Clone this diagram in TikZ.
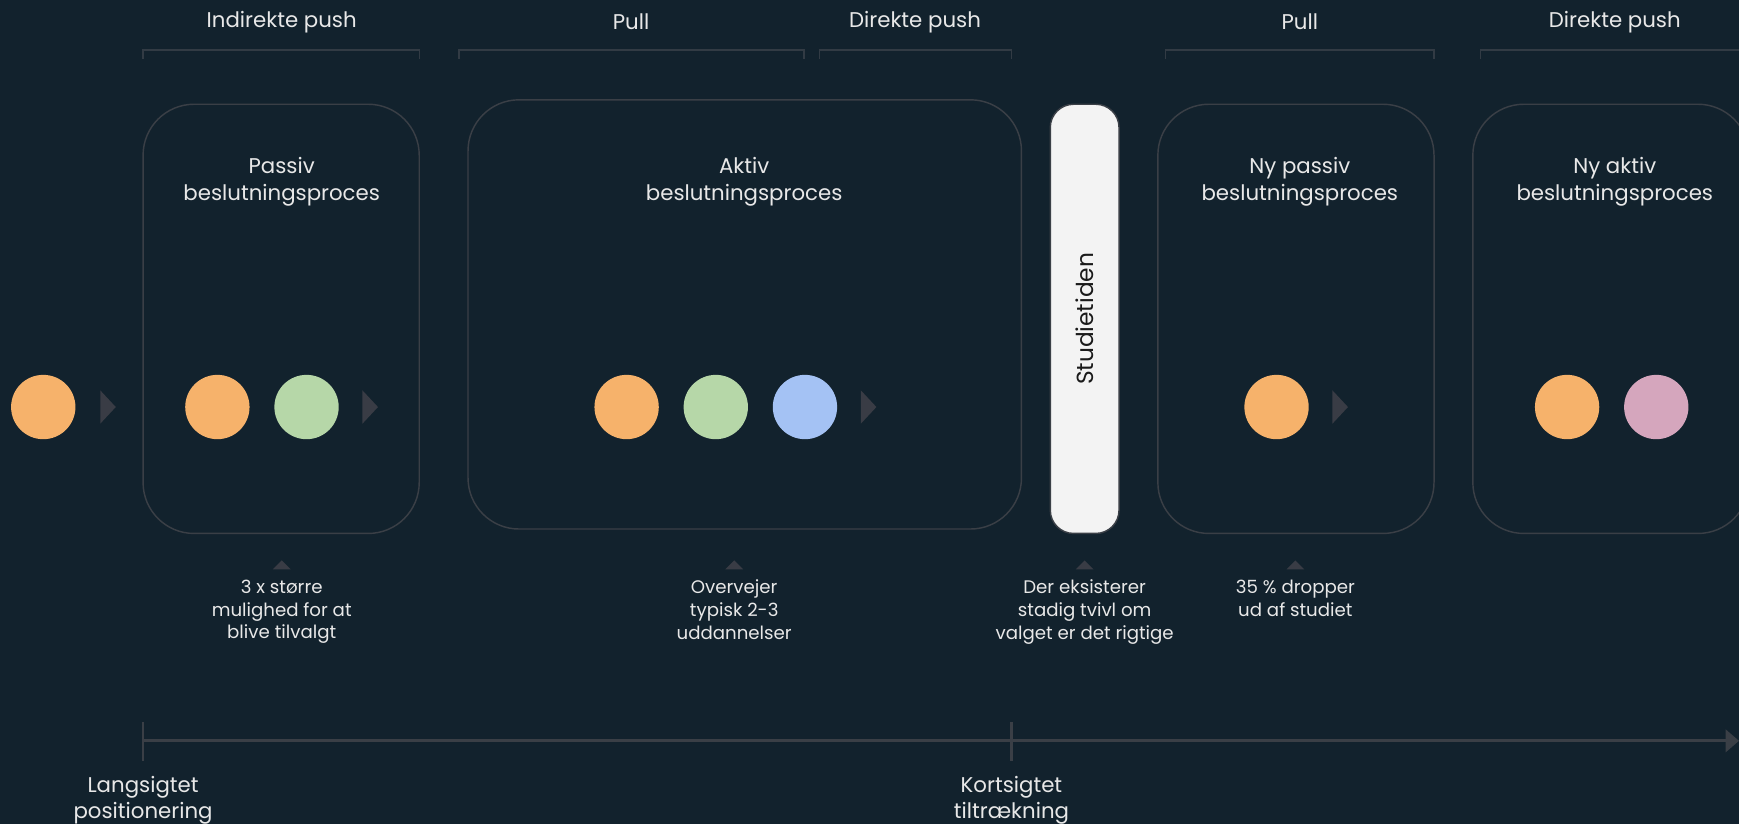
\documentclass[tikz,border=0pt]{standalone}
\usepackage{fontspec}
\setmainfont{Poppins}
\usetikzlibrary{positioning,shapes.geometric,arrows.meta}
\definecolor{bg}{HTML}{12222D}
\definecolor{linje}{HTML}{3A3F46}
\definecolor{klammefarve}{HTML}{323B44}
\definecolor{trekant}{HTML}{393C45}
\definecolor{lys}{HTML}{E8E8E8}
\definecolor{hvid}{HTML}{F3F3F3}
\definecolor{mork}{HTML}{1A1A1A}
\definecolor{orange}{HTML}{F6B26B}
\definecolor{groen}{HTML}{B6D7A8}
\definecolor{blaa}{HTML}{A4C2F4}
\definecolor{rosa}{HTML}{D5A6BD}
\begin{document}
\begin{tikzpicture}[x=1pt,y=-1pt,
	tekst/.style={text=lys, font=\fontsize{19.2}{24}\selectfont, align=center},
	lille/.style={text=lys, font=\fontsize{16.4}{20.5}\selectfont, align=center},
	boks/.style={draw=linje, line width=1.3pt, rounded corners=46pt, minimum width=249pt, minimum height=387pt},
	prik/.style={circle, fill=#1, minimum size=58pt, inner sep=0pt},
	pil/.style={isosceles triangle, isosceles triangle stretches, fill=trekant, inner sep=0pt, minimum width=30pt, minimum height=14pt},
	op/.style={pil, shape border rotate=90, minimum width=16pt, minimum height=8pt},
	klamme/.style={draw=klammefarve, line width=1.3pt},
	akse/.style={draw=linje, line width=2.7pt}
]
	\useasboundingbox (0,0) rectangle (1568,743);
	\fill[bg] (0,0) rectangle (1568,743);

	\node[tekst] (l1) at (254,20) {Indirekte push};
	\node[tekst] (l2) at (569,20) {Pull};
	\node[tekst] (l3) at (825,20) {Direkte push};
	\node[tekst] (l4) at (1172,20) {Pull};
	\node[tekst] (l5) at (1456,20) {Direkte push};
	\draw[klamme] (129,53) |- (378,45) -- (378,53);
	\draw[klamme] (414,53) |- (725,45) -- (725,53);
	\draw[klamme] (739,53) |- (912,45) -- (912,53);
	\draw[klamme] (1051,53) |- (1293,45) -- (1293,53);
	\draw[klamme] (1335,53) |- (1572,45);

	\node[boks] (b1) at (253.5,287.5) {};
	\node[boks, minimum width=499pt] (b2) at (671.5,283.5) {};
	\node[boks, fill=hvid, rotate=90, minimum width=387pt, minimum height=62pt, rounded corners=21pt, text=mork, font=\fontsize{21}{24}\selectfont] (studie) at (978,287.5) {Studietiden};
	\node[boks] (b4) at (1168.5,287.5) {};
	\node[boks] (b5) at (1452.5,287.5) {};

	\node[tekst] (t1) at (254,164) {Passiv\\beslutningsproces};
	\node[tekst] (t2) at (671,164) {Aktiv\\beslutningsproces};
	\node[tekst] (t4) at (1172,164) {Ny passiv\\beslutningsproces};
	\node[tekst] (t5) at (1456,164) {Ny aktiv\\beslutningsproces};

	\node[prik=orange] (p0) at (39,367) {};
	\node[pil, right=22pt of p0] (a0) {};
	\node[prik=orange] (p1) at (196,367) {};
	\node[prik=groen, right=22pt of p1] (p2) {};
	\node[pil, right=21pt of p2] (a1) {};
	\node[prik=orange] (p3) at (565,367) {};
	\node[prik=groen, right=22pt of p3] (p4) {};
	\node[prik=blaa, right=22pt of p4] (p5) {};
	\node[pil, right=21pt of p5] (a2) {};
	\node[prik=orange] (p6) at (1151,367) {};
	\node[pil, right=21pt of p6] (a3) {};
	\node[prik=orange] (p7) at (1413,367) {};
	\node[prik=rosa, right=22pt of p7] (p8) {};

	\node[op] (o1) at (254,510) {};
	\node[op] (o2) at (662,510) {};
	\node[op] (o3) at (978,510) {};
	\node[op] (o4) at (1168,510) {};
	\node[lille, below=6pt of o1] (n1) {3 x større\\mulighed for at\\blive tilvalgt};
	\node[lille, below=6pt of o2] (n2) {Overvejer\\typisk 2-3\\uddannelser};
	\node[lille, below=6pt of o3] (n3) {Der eksisterer\\stadig tvivl om\\valget er det rigtige};
	\node[lille, below=6pt of o4] (n4) {35 \% dropper\\ud af studiet};

	\coordinate (start) at (129,668);
	\coordinate (midt) at (912,668);
	\coordinate (slut) at (1568,668);
	\draw[akse, -{Triangle[length=12pt,width=20pt]}] (start) -- (slut);
	\draw[akse, line width=2.2pt] ([yshift=17pt]start) -- ([yshift=-18pt]start);
	\draw[akse, line width=2.2pt] ([yshift=17pt]midt) -- ([yshift=-18pt]midt);
	\node[tekst, anchor=north] (k1) at (129,696) {Langsigtet\\positionering};
	\node[tekst, anchor=north] (k2) at (912,696) {Kortsigtet\\tiltrækning};
\end{tikzpicture}
\end{document}
